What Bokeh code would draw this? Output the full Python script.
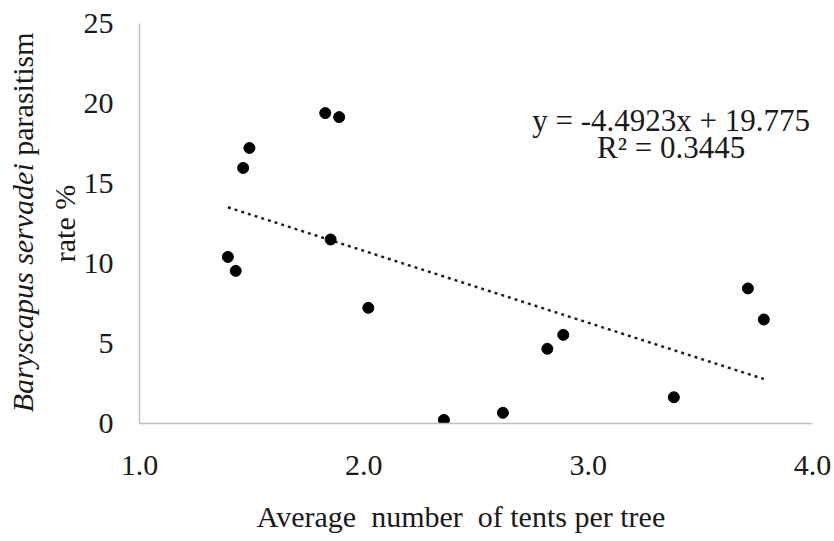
import math
from bokeh.plotting import figure
from bokeh.models import Label, FixedTicker, NumeralTickFormatter, ColumnDataSource, Title
from bokeh.layouts import row
from bokeh.embed import file_html
from bokeh.resources import INLINE

# ---- data ----
tents = [1.394, 1.429, 1.462, 1.490, 1.828, 1.890, 1.852, 2.020,
         2.357, 2.620, 2.818, 2.889, 3.382, 3.712, 3.783]
parasitism = [10.41, 9.54, 15.97, 17.22, 19.40, 19.15, 11.50, 7.23,
              0.22, 0.67, 4.67, 5.54, 1.64, 8.44, 6.50]
slope = -4.4923
intercept = 19.775
r_squared = 0.3445
x_ticks = [1, 2, 3, 4]
y_ticks = [0, 5, 10, 15, 20, 25]

FONT = "Liberation Serif"
FS = "30px"
TXT = "#1a1a1a"
H = 541
W_LEFT = 44

# ---- left strip holding the first, partly italic line of the y-axis title ----
t = figure(width=W_LEFT, height=H, output_backend="svg", toolbar_location=None,
           x_range=(0, W_LEFT), y_range=(0, H), x_axis_location=None, y_axis_location=None,
           min_border=0)
t.outline_line_color = None
t.grid.visible = False
t.add_layout(Label(x=22, y=352, text="Baryscapus servadei", angle=math.pi / 2,
                   text_font=FONT, text_font_size=FS, text_font_style="italic",
                   text_align="right", text_baseline="middle", text_color=TXT))
t.add_layout(Label(x=22, y=352, text="\u00a0parasitism", angle=math.pi / 2,
                   text_font=FONT, text_font_size=FS,
                   text_align="left", text_baseline="middle", text_color=TXT))

# ---- main scatter chart ----
p = figure(width=834 - W_LEFT, height=H, output_backend="svg", toolbar_location=None,
           x_range=(1, 4), y_range=(0, 25),
           min_border_left=139 - W_LEFT, min_border_right=22, min_border_top=23,
           min_border_bottom=118)
p.outline_line_color = None
p.grid.visible = False

for ax in (p.xaxis[0], p.yaxis[0]):
    ax.axis_line_color = "#bfbfbf"
    ax.axis_line_width = 1.5
    ax.major_tick_line_color = None
    ax.minor_tick_line_color = None
    ax.major_tick_out = 0
    ax.major_tick_in = 0
    ax.major_label_text_font = FONT
    ax.major_label_text_font_size = FS
    ax.major_label_text_color = TXT

p.xaxis.ticker = FixedTicker(ticks=x_ticks)
p.xaxis.formatter = NumeralTickFormatter(format="0.0")
p.yaxis.ticker = FixedTicker(ticks=y_ticks)
p.xaxis.major_label_standoff = 32
p.yaxis.major_label_standoff = 26

p.xaxis.axis_label = "Average\u00a0 number\u00a0 of tents per tree\u00a0\u00a0\u00a0\u00a0"
p.xaxis.axis_label_text_font = FONT
p.xaxis.axis_label_text_font_style = "normal"
p.xaxis.axis_label_text_font_size = FS
p.xaxis.axis_label_text_color = TXT
p.xaxis.axis_label_standoff = 22

# second line of the y-axis title
p.add_layout(Title(text="rate %", align="center", offset=-3, standoff=0,
                   text_font=FONT, text_font_size=FS, text_font_style="normal",
                   text_color=TXT), "left")

# trend line from the fitted coefficients
x0, x1 = min(tents), max(tents)
trend = ColumnDataSource(dict(x=[x0, x1], y=[slope * x0 + intercept, slope * x1 + intercept]))
p.line("x", "y", source=trend, line_color="#222222", line_width=2.5, line_dash="3 4")

p.scatter(tents, parasitism, size=11, color="black")

# equation text
p.add_layout(Label(x=3.37, y=18.95, text=f"y = {slope}x + {intercept}",
                   text_font=FONT, text_font_size="31px", text_align="center",
                   text_baseline="middle", text_color=TXT))
p.add_layout(Label(x=3.37, y=17.28, text=f"R² = {r_squared}",
                   text_font=FONT, text_font_size="31px", text_align="center",
                   text_baseline="middle", text_color=TXT))

layout = row(t, p, spacing=0)
open("out.html", "w").write(file_html(layout, INLINE))
